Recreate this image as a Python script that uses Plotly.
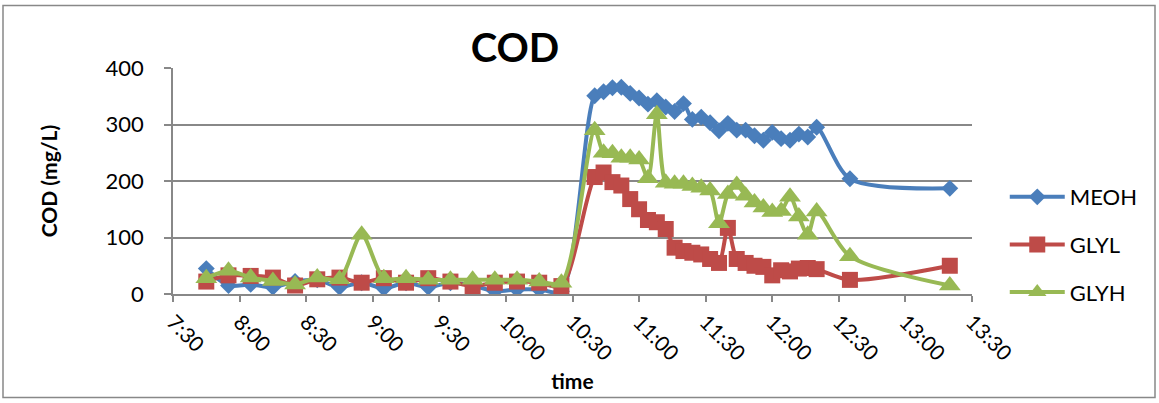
import plotly.graph_objects as go

# ---- data ----
times = ["7:45", "7:55", "8:05", "8:15", "8:25", "8:35", "8:45", "8:55", "9:05", "9:15",
         "9:25", "9:35", "9:45", "9:55", "10:05", "10:15", "10:25",
         "10:40", "10:44", "10:48", "10:52", "10:56", "11:00", "11:04", "11:08", "11:12",
         "11:16", "11:20", "11:24", "11:28", "11:32", "11:36", "11:40", "11:44", "11:48",
         "11:52", "11:56", "12:00", "12:04", "12:08", "12:12", "12:16", "12:20",
         "12:35", "13:20"]

meoh = [45, 15, 17, 12, 22, 25, 12, 20, 10, 20, 12, 20, 15, 5, 8, 8, 5,
        351, 358, 365, 366, 355, 347, 336, 342, 331, 323, 337, 309, 313, 303, 289,
        302, 290, 290, 280, 272, 286, 275, 272, 283, 278, 295,
        204, 187]

glyl = [22, 33, 32, 29, 15, 26, 29, 20, 28, 20, 28, 22, 14, 20, 22, 20, 14,
        207, 215, 198, 192, 168, 150, 131, 127, 115, 82, 76, 73, 70, 62, 55,
        117, 62, 55, 50, 48, 33, 42, 40, 45, 46, 44,
        25, 50]

glyh = [28, 41, 29, 23, 17, 29, 26, 105, 28, 28, 25, 25, 25, 25, 25, 22, 20,
        290, 250, 249, 241, 241, 238, 205, 318, 197, 195, 195, 191, 188, 183, 125,
        177, 193, 174, 162, 153, 145, 147, 172, 137, 105, 146,
        67, 15]

series_names = ["MEOH", "GLYL", "GLYH"]
series_colors = ["#4A7EBB", "#BE4B48", "#98B954"]
tick_labels = ["7:30", "8:00", "8:30", "9:00", "9:30", "10:00", "10:30",
               "11:00", "11:30", "12:00", "12:30", "13:00", "13:30"]

def to_dt(t):
    h, m = t.split(":")
    return "2000-01-01 %02d:%02d:00" % (int(h), int(m))

x = [to_dt(t) for t in times]
tick_vals = [to_dt(t) for t in tick_labels]

FONT = "Lato"
fig = go.Figure()
symbols = ["diamond", "square", "triangle-up"]
sizes = [13, 16, 19]
for name, vals, col, sym, sz in zip(series_names, [meoh, glyl, glyh], series_colors, symbols, sizes):
    fig.add_trace(go.Scatter(
        x=x, y=vals, name=name, mode="lines+markers",
        line=dict(color=col, width=4, shape="spline", smoothing=0.8),
        marker=dict(symbol=sym, size=sz, color=col, line=dict(width=0)),
        legendgroup=name,
    ))

fig.update_layout(
    width=1159, height=403,
    margin=dict(l=173, r=187, t=68, b=109),
    paper_bgcolor="white", plot_bgcolor="white",
    font=dict(family=FONT, color="black"),
    title=dict(text="<b>COD</b>", font=dict(size=40, family=FONT, color="black"),
               x=0.428, xanchor="center", xref="paper",
               y=1 - 48 / 403, yanchor="middle", yref="container"),
    showlegend=True,
    legend=dict(x=1.041, xanchor="left", y=0.522, yanchor="top",
                font=dict(size=22, family=FONT), tracegroupgap=16,
                traceorder="grouped", itemwidth=55, bgcolor="rgba(0,0,0,0)"),
    xaxis=dict(
        type="date", range=[tick_vals[0], tick_vals[-1]],
        tickmode="array", tickvals=tick_vals, ticktext=tick_labels,
        tickangle=45, tickfont=dict(size=21, family=FONT),
        showgrid=False, showline=True, linecolor="#888888", linewidth=1.5,
        ticks="outside", ticklen=6, tickcolor="#888888", tickwidth=1.5,
        zeroline=False,
        title=dict(text="<b>time</b>", font=dict(size=21, family=FONT), standoff=10),
    ),
    yaxis=dict(
        range=[0, 400], tickmode="array", tickvals=[0, 100, 200, 300, 400],
        tickfont=dict(size=22, family=FONT),
        showgrid=True, gridcolor="#888888", gridwidth=1.5,
        showline=True, linecolor="#888888", linewidth=1.5,
        ticks="outside", ticklen=7, tickcolor="#888888", tickwidth=1.5,
        zeroline=False, ticklabelstandoff=16,
        title=dict(text="<b>COD (mg/L)</b>", font=dict(size=21, family=FONT), standoff=42),
    ),
    shapes=[dict(type="rect", xref="paper", yref="paper",
                 x0=(3 - 173) / 799, x1=(1155 - 173) / 799,
                 y0=(294.3 - 398) / 226.6, y1=(294.3 - 5) / 226.6,
                 line=dict(color="#888888", width=1.5), layer="below")],
)

fig.write_html("out.html")
